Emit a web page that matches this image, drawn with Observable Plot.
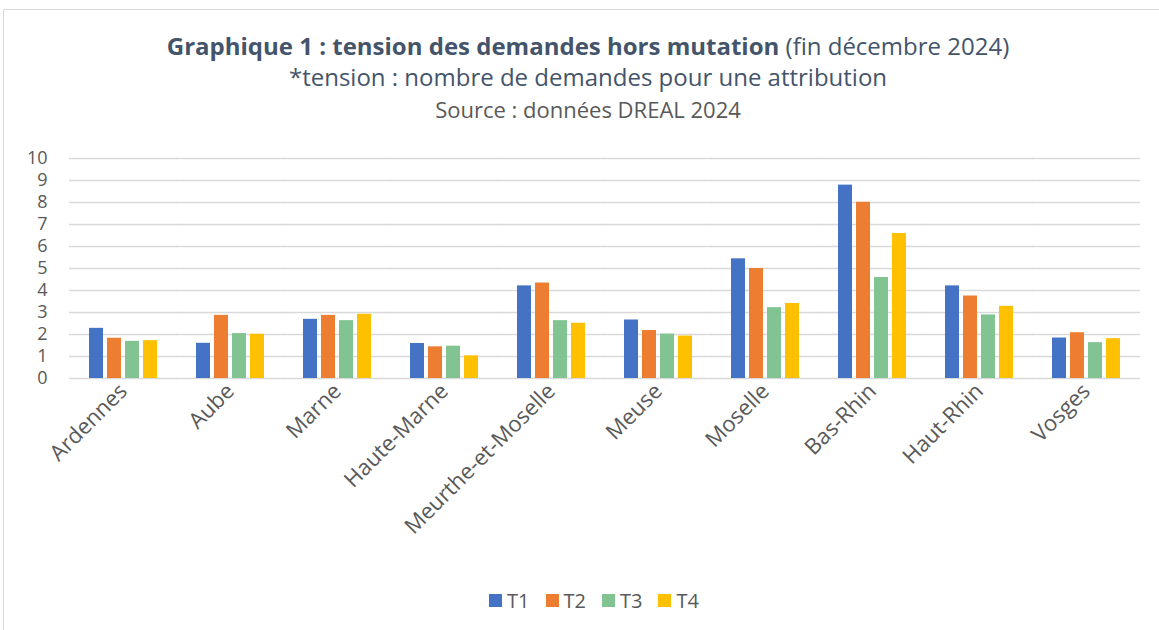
<!DOCTYPE html>
<html>
<head>
<meta charset="utf-8">
<script src="https://cdn.jsdelivr.net/npm/d3@7"></script>
<script src="https://cdn.jsdelivr.net/npm/@observablehq/plot@0.6"></script>
<style>
  html, body { margin: 0; padding: 0; background: #fff; width: 1159px; height: 630px; overflow: hidden; }
  #frame { position: absolute; left: 3px; top: 9px; width: 1170px; height: 640px; border: 1.5px solid #d9d9d9; box-sizing: border-box; }
  .t { position: absolute; left: 3px; width: 1170px; text-align: center; font-family: "Open Sans", Roboto, sans-serif; white-space: nowrap; line-height: 1.2; }
  #title { top: 32px; font-size: 24px; color: #44546A; }
  #title b { font-weight: 700; }
  #title span { font-weight: 400; }
  #subtitle { top: 63px; font-size: 24px; color: #44546A; }
  #source { top: 96px; font-size: 22px; color: #595959; }
  #chart { position: absolute; left: 0; top: 140px; }
  #legend { position: absolute; top: 586px; left: 3px; width: 1182px; text-align: center; font-family: "Open Sans", Roboto, sans-serif; font-size: 20px; color: #595959; }
  #legend .item { display: inline-flex; align-items: center; margin: 0 8px; }
  #legend .sw { width: 13px; height: 13px; display: inline-block; margin-right: 5px; }
</style>
</head>
<body>
<div id="frame"></div>
<div class="t" id="title"><b>Graphique 1 : tension des demandes hors mutation</b> <span>(fin décembre 2024)</span></div>
<div class="t" id="subtitle">*tension : nombre de demandes pour une attribution</div>
<div class="t" id="source">Source : données DREAL 2024</div>
<div id="chart"></div>
<div id="legend"></div>
<script>
const departements = ["Ardennes", "Aube", "Marne", "Haute-Marne", "Meurthe-et-Moselle", "Meuse", "Moselle", "Bas-Rhin", "Haut-Rhin", "Vosges"];
const series = ["T1", "T2", "T3", "T4"];
const colors = ["#4472C4", "#ED7D31", "#82C491", "#FFC000"];
const T1 = [2.28, 1.60, 2.69, 1.59, 4.21, 2.66, 5.44, 8.79, 4.21, 1.84];
const T2 = [1.83, 2.87, 2.87, 1.44, 4.34, 2.18, 5.00, 8.01, 3.75, 2.08];
const T3 = [1.69, 2.04, 2.63, 1.47, 2.63, 2.02, 3.22, 4.59, 2.89, 1.63];
const T4 = [1.72, 2.01, 2.92, 1.03, 2.51, 1.93, 3.41, 6.59, 3.28, 1.81];
const yTicks = [0, 1, 2, 3, 4, 5, 6, 7, 8, 9, 10];

const values = {T1, T2, T3, T4};
const data = [];
departements.forEach((d, i) => series.forEach(s => data.push({dep: d, serie: s, value: values[s][i]})));

const chart = Plot.plot({
  width: 1159,
  height: 430,
  marginLeft: 70,
  marginRight: 19,
  marginTop: 18,
  marginBottom: 192,
  style: {fontFamily: "'Open Sans', Roboto, sans-serif", color: "#595959", background: "transparent"},
  fx: {domain: departements, paddingInner: 0.327, paddingOuter: 0.1635, label: null},
  x: {domain: series, paddingInner: 0.21, paddingOuter: 0, axis: null},
  y: {domain: [0, 10], label: null},
  color: {domain: series, range: colors},
  marks: [
    Plot.ruleY(yTicks, {stroke: "#d9d9d9", strokeWidth: 1.5, strokeOpacity: 1, insetLeft: -18, insetRight: -18}),
    Plot.axisY(yTicks, {tickSize: 0, tickPadding: 40, fontSize: 18, fill: "#595959", label: null}),
    Plot.barY(data, {fx: "dep", x: "serie", y: "value", fill: "serie"}),
    Plot.axisFx({anchor: "bottom", tickSize: 0, tickRotate: -45, tickPadding: 9, fontSize: 22, fill: "#595959", label: null})
  ]
});
document.getElementById("chart").appendChild(chart);

const legend = document.getElementById("legend");
series.forEach((s, i) => {
  const item = document.createElement("span");
  item.className = "item";
  item.innerHTML = `<span class="sw" style="background:${colors[i]}"></span>${s}`;
  legend.appendChild(item);
});
</script>
</body>
</html>
